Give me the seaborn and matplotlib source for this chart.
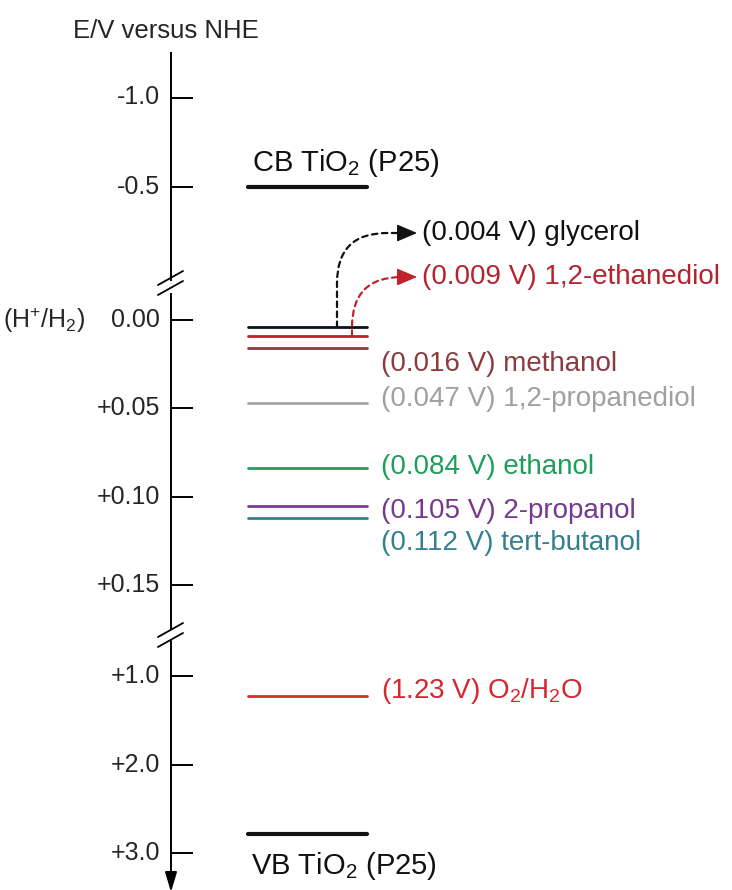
import numpy as np
import pandas as pd
import matplotlib
matplotlib.use("Agg")
import matplotlib.pyplot as plt
import seaborn as sns

# Energy levels, V versus NHE
level_names = ["CB", "glycerol", "1,2-ethanediol", "methanol", "1,2-propanediol",
               "ethanol", "2-propanol", "tert-butanol", "O2/H2O", "VB"]
level_values = [-0.5, 0.004, 0.009, 0.016, 0.047, 0.084, 0.105, 0.112, 1.23, 2.78]
level_kinds = ["band", "couple", "couple", "couple", "couple",
               "couple", "couple", "couple", "couple", "band"]
level_colors = ["#111111", "#111111", "#C0222B", "#8E3B3E", "#A6A6A6",
                "#1E9E5A", "#7A3A98", "#34808F", "#E0262E", "#111111"]
level_labels = [r"CB TiO$_\mathregular{2}$ (P25)", "(0.004 V) glycerol", "(0.009 V) 1,2-ethanediol",
                "(0.016 V) methanol", "(0.047 V) 1,2-propanediol", "(0.084 V) ethanol",
                "(0.105 V) 2-propanol", "(0.112 V) tert-butanol",
                r"(1.23 V) O$_\mathregular{2}$/H$_\mathregular{2}$O", r"VB TiO$_\mathregular{2}$ (P25)"]
label_text_colors = ["#111111", "#111111", "#B5232E", "#8A3C40", "#A0A0A0",
                     "#1E9E5A", "#76398F", "#34808F", "#D62630", "#111111"]

tick_values = [-1.0, -0.5, 0.00, 0.05, 0.10, 0.15, 1.0, 2.0, 3.0]
tick_labels = ["-1.0", "-0.5", "0.00", "+0.05", "+0.10", "+0.15", "+1.0", "+2.0", "+3.0"]

W, H = 732, 890

# broken axis: piecewise linear scale (value -> pixel row from top)
knot_v = np.array([-3.0, -1.0, -0.5, 0.0, 0.15, 1.0, 3.0, 5.0])
knot_u = np.array([-258.5, 97.5, 187.0, 320.0, 585.0, 676.0, 853.0, 1030.0])


def fwd(v):
    return np.interp(v, knot_v, knot_u)


def inv(u):
    return np.interp(u, knot_u, knot_v)


sns.set_theme(style="white")
plt.rcParams["font.family"] = ["Liberation Sans", "DejaVu Sans"]
plt.rcParams["mathtext.fontset"] = "custom"
plt.rcParams["mathtext.rm"] = "Liberation Sans"
plt.rcParams["mathtext.it"] = "Liberation Sans:italic"
plt.rcParams["mathtext.bf"] = "Liberation Sans:bold"

fig = plt.figure(figsize=(W / 100, H / 100), dpi=100)
ax = fig.add_axes([0, 0, 1, 1])
ax.set_yscale("function", functions=(fwd, inv))
ax.set_xlim(0, W)
ax.set_ylim(inv(H), inv(0))
ax.axis("off")

# level lines
x0, x1 = 248, 367
rows = []
for name, val, kind in zip(level_names, level_values, level_kinds):
    rows.append({"name": name, "E": val, "x": x0, "kind": kind})
    rows.append({"name": name, "E": val, "x": x1, "kind": kind})
levels = pd.DataFrame(rows)
sns.lineplot(data=levels, x="x", y="E", hue="name", size="kind",
             palette=dict(zip(level_names, level_colors)),
             sizes={"band": 3.0, "couple": 2.0},
             estimator=None, sort=False, legend=False, ax=ax)
ax.set_xlim(0, W)
ax.set_ylim(inv(H), inv(0))

# vertical axis with breaks
axis_x = 171
lk = dict(color="black", lw=1.4, solid_capstyle="butt")
ax.plot([axis_x, axis_x], [inv(52), inv(281)], **lk)
ax.plot([axis_x, axis_x], [inv(293), inv(630)], **lk)
ax.annotate("", xy=(axis_x, inv(892)), xytext=(axis_x, inv(641)),
            annotation_clip=False,
            arrowprops=dict(arrowstyle="-|>,head_length=0.6,head_width=0.18", color="black", lw=1.4,
                            mutation_scale=20, shrinkA=0, shrinkB=0))
for u in (283, 635):
    for d in (-5, 5):
        ax.plot([axis_x - 13, axis_x + 12], [inv(u + d + 7), inv(u + d - 7)],
                color="black", lw=1.3)

# ticks
ax.hlines(tick_values, axis_x, axis_x + 22, color="black", lw=1.4)
for v, lab in zip(tick_values, tick_labels):
    ax.text(160, v, lab, ha="right", va="center", fontsize=18)
ax.text(3, 0.0, r"(H$^\mathregular{+}$/H$_\mathregular{2}$)", ha="left", va="center", fontsize=18)
ax.text(73 / W, 1 - 31 / H, "E/V versus NHE", transform=ax.transAxes,
        ha="left", va="center", fontsize=18.5)

# labels
label_pos = {
    "CB": (252, 163), "glycerol": (422, 233), "1,2-ethanediol": (422, 277),
    "methanol": (381, 364), "1,2-propanediol": (381, 399), "ethanol": (381, 467),
    "2-propanol": (381, 511), "tert-butanol": (381, 543), "O2/H2O": (381, 691),
    "VB": (251, 866),
}
for name, lab, col in zip(level_names, level_labels, label_text_colors):
    lx, lu = label_pos[name]
    fs = 21 if name in ("CB", "VB") else 20
    ax.text(lx, inv(lu), lab, ha="left", va="center", fontsize=fs, color=col)

# dashed arrows to the two labels above (dashed body, solid head)
arrows = [("glycerol", 337, 417, 233, "#111111"), ("1,2-ethanediol", 352, 417, 277, "#C0222B")]
for name, sx, tx, tu, col in arrows:
    sv = level_values[level_names.index(name)]
    ax.annotate("", xy=(tx - 10, inv(tu)), xytext=(sx, sv),
                arrowprops=dict(arrowstyle="-", color=col, lw=1.6,
                                linestyle=(0, (2.5, 2.0)),
                                connectionstyle="angle,angleA=90,angleB=0,rad=50",
                                shrinkA=0, shrinkB=0))
    ax.annotate("", xy=(tx, inv(tu)), xytext=(tx - 12, inv(tu)),
                arrowprops=dict(arrowstyle="-|>,head_length=0.7,head_width=0.3", color=col, lw=1.0,
                                mutation_scale=18, shrinkA=0, shrinkB=0))

fig.savefig("out.png", dpi=100)
